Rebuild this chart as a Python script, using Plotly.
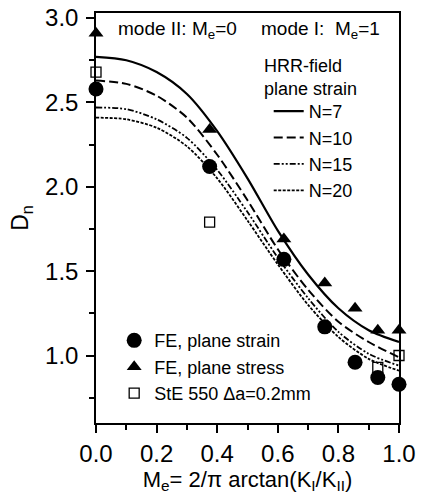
import plotly.graph_objects as go

# HRR-field curves (plane strain)
me_curve = [0.0, 0.1, 0.2, 0.3, 0.4, 0.5, 0.6, 0.7, 0.8, 0.9, 1.0]
dn_n7 = [2.77, 2.75, 2.68, 2.55, 2.33, 2.05, 1.74, 1.48, 1.28, 1.15, 1.08]
dn_n10 = [2.63, 2.61, 2.54, 2.41, 2.19, 1.92, 1.63, 1.39, 1.20, 1.08, 0.99]
dn_n15 = [2.47, 2.46, 2.40, 2.29, 2.10, 1.85, 1.58, 1.34, 1.14, 1.01, 0.94]
dn_n20 = [2.41, 2.40, 2.35, 2.24, 2.05, 1.80, 1.54, 1.30, 1.11, 0.98, 0.91]

# FE and experimental points
me_fe = [0.0, 0.375, 0.62, 0.755, 0.855, 0.93, 1.0]
dn_fe_strain = [2.58, 2.12, 1.57, 1.17, 0.96, 0.87, 0.83]
dn_fe_stress = [2.91, 2.34, 1.69, 1.43, 1.28, 1.15, 1.15]
me_exp = [0.0, 0.375, 0.93, 1.0]
dn_exp = [2.68, 1.79, 0.93, 1.0]

FONT = "Liberation Sans, Arial, sans-serif"
fig = go.Figure()

curves = [("N=7", dn_n7, "solid", 2.2),
          ("N=10", dn_n10, "9px,4px", 2.0),
          ("N=15", dn_n15, "6px,2px,2px,2px,2px,2px", 1.8),
          ("N=20", dn_n20, "3px,1.5px", 1.8)]
for name, ys, dash, w in curves:
    fig.add_trace(go.Scatter(x=me_curve, y=ys, mode="lines", name=name,
                             line=dict(color="black", width=w, dash=dash, shape="spline", smoothing=0.8),
                             legend="legend"))

fig.add_trace(go.Scatter(x=me_fe, y=dn_fe_strain, mode="markers", name="FE, plane strain",
                         marker=dict(symbol="circle", size=15, color="black"),
                         cliponaxis=False, legend="legend2"))
fig.add_trace(go.Scatter(x=me_fe, y=dn_fe_stress, mode="markers", name="FE, plane stress",
                         marker=dict(symbol="triangle-up", size=13, color="black"),
                         cliponaxis=False, legend="legend2"))
fig.add_trace(go.Scatter(x=me_exp, y=dn_exp, mode="markers", name="StE 550 Δa=0.2mm",
                         marker=dict(symbol="square-open", size=10, color="black", line=dict(width=1.3)),
                         cliponaxis=False, legend="legend2"))

fig.update_layout(
    width=423, height=499,
    margin=dict(l=96, r=24, t=13, b=76, autoexpand=False),
    paper_bgcolor="white", plot_bgcolor="white",
    font=dict(family=FONT, color="black", size=19),
    legend=dict(x=0.57, y=0.805, xanchor="left", yanchor="top",
                font=dict(size=18), bgcolor="rgba(0,0,0,0)", tracegroupgap=0),
    legend2=dict(x=0.06, y=0.246, xanchor="left", yanchor="top",
                 font=dict(size=18), bgcolor="rgba(0,0,0,0)"),
    xaxis=dict(range=[0, 1], showline=True, mirror=True, linecolor="black", linewidth=1.5,
               ticks="outside", ticklen=8, tickwidth=1.5, tickcolor="black",
               tickvals=[0, 0.2, 0.4, 0.6, 0.8, 1.0], ticktext=["0.0", "0.2", "0.4", "0.6", "0.8", "1.0"],
               tickfont=dict(size=24),
               minor=dict(dtick=0.1, ticks="outside", ticklen=5, tickcolor="black", tickwidth=1.5),
               showgrid=False, zeroline=False,
               title=dict(text="M<sub>e</sub>= 2/π arctan(K<sub>I</sub>/K<sub>II</sub>)",
                          font=dict(size=22), standoff=4)),
    yaxis=dict(range=[0.60, 3.03], showline=True, mirror=True, linecolor="black", linewidth=1.5,
               ticks="outside", ticklen=8, tickwidth=1.5, tickcolor="black",
               tickvals=[1.0, 1.5, 2.0, 2.5, 3.0], ticktext=["1.0", "1.5", "2.0", "2.5", "3.0"],
               tickfont=dict(size=24), ticklabelstandoff=3,
               minor=dict(tickvals=[0.75, 1.25, 1.75, 2.25, 2.75], ticks="outside", ticklen=5,
                          tickcolor="black", tickwidth=1.5),
               showgrid=False, zeroline=False,
               title=dict(text="D<sub>n</sub>", font=dict(size=23), standoff=10)),
    annotations=[
        dict(text="mode II: M<sub>e</sub>=0", x=0.27, y=2.93, xref="x", yref="y",
             xanchor="center", yanchor="middle", showarrow=False, font=dict(size=19)),
        dict(text="mode I:  M<sub>e</sub>=1", x=0.74, y=2.93, xref="x", yref="y",
             xanchor="center", yanchor="middle", showarrow=False, font=dict(size=19)),
        dict(text="HRR-field<br>plane strain", x=0.548, y=(423 - 77) / 410, xref="paper", yref="paper",
             xanchor="left", yanchor="middle", align="left", showarrow=False, font=dict(size=18)),
    ],
)

fig.write_html("out.html")
